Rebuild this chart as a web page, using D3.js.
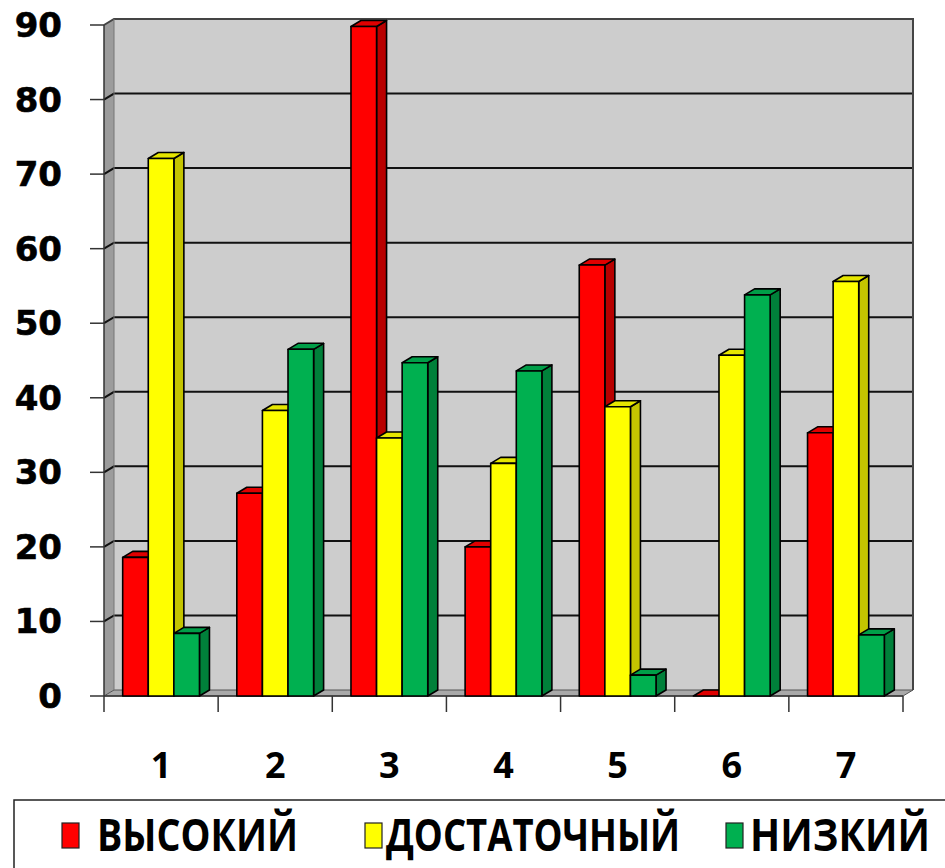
<!DOCTYPE html>
<html>
<head>
<meta charset="utf-8">
<script src="https://d3js.org/d3.v7.min.js"></script>
<style>
  body { margin: 0; background: #fff; }
  svg { display: block; }
</style>
</head>
<body>
<div id="chart"></div>
<script>
// Data
const categories = ["1", "2", "3", "4", "5", "6", "7"];
const seriesNames = ["ВЫСОКИЙ", "ДОСТАТОЧНЫЙ", "НИЗКИЙ"];
const high = [18.6, 27.2, 89.8, 20.0, 57.8, 0, 35.3];
const enough = [72.1, 38.3, 34.6, 31.2, 38.8, 45.7, 55.6];
const low = [8.4, 46.5, 44.7, 43.6, 2.8, 53.8, 8.2];
const yTicks = [0, 10, 20, 30, 40, 50, 60, 70, 80, 90];

const seriesValues = [high, enough, low];
const colors = [
    { front: "#ff0000", side: "#b80000", top: "#e00000" },
    { front: "#ffff00", side: "#c4c400", top: "#e6e600" },
    { front: "#00b050", side: "#00803a", top: "#009e48" }
];

const width = 945;
const height = 868;
const dx = 10, dy = -6;  // 3D depth offset

const svg = d3.select("#chart")
    .append("svg")
    .attr("width", width)
    .attr("height", height);

// Scales
const x0 = d3.scaleBand().domain(categories).range([104, 903]).paddingInner(0);
const x1 = d3.scaleBand().domain(d3.range(3)).range([0, x0.bandwidth()])
    .paddingInner(0).paddingOuter(0.73);
const y = d3.scaleLinear().domain([0, 90]).range([696, 25]);

const left = x0.range()[0], right = x0.range()[1];
const y0 = y(0), yTop = y(90);

// Walls
const walls = svg.append("g");
// back wall
walls.append("rect")
    .attr("x", left + dx).attr("y", yTop + dy)
    .attr("width", right - left).attr("height", y0 - yTop)
    .attr("fill", "#cdcdcd");
// left side wall
walls.append("path")
    .attr("d", `M${left},${y0}L${left},${yTop}L${left + dx},${yTop + dy}L${left + dx},${y0 + dy}Z`)
    .attr("fill", "#9c9c9c");
// floor
walls.append("path")
    .attr("d", `M${left},${y0}L${right},${y0}L${right + dx},${y0 + dy}L${left + dx},${y0 + dy}Z`)
    .attr("fill", "#a9a9a9")
    .attr("stroke", "#555").attr("stroke-width", 1);

// Gridlines on back and side walls
const grid = svg.append("g").attr("stroke", "#111").attr("stroke-width", 2).attr("fill", "none");
yTicks.filter(v => v > 0 && v < 90).forEach(v => {
    grid.append("path")
        .attr("d", `M${left},${y(v)}L${left + dx},${y(v) + dy}L${right + dx},${y(v) + dy}`);
});

// Wall outlines
svg.append("path")
    .attr("d", `M${left},${yTop}L${left + dx},${yTop + dy}L${right + dx},${yTop + dy}L${right + dx},${y0 + dy}`)
    .attr("fill", "none").attr("stroke", "#444").attr("stroke-width", 2);
svg.append("path")
    .attr("d", `M${left + dx},${yTop + dy}L${left + dx},${y0 + dy}`)
    .attr("fill", "none").attr("stroke", "#777").attr("stroke-width", 1);

// Y axis
const yAxisG = svg.append("g");
yAxisG.append("line")
    .attr("x1", left).attr("x2", left).attr("y1", yTop).attr("y2", y0)
    .attr("stroke", "#333").attr("stroke-width", 1.5);
yAxisG.selectAll("line.tick")
    .data(yTicks)
    .enter()
    .append("line")
    .attr("class", "tick")
    .attr("x1", left - 14).attr("x2", left)
    .attr("y1", d => y(d)).attr("y2", d => y(d))
    .attr("stroke", "#333").attr("stroke-width", 1.5);
yAxisG.selectAll("text")
    .data(yTicks)
    .enter()
    .append("text")
    .attr("x", 62)
    .attr("y", d => y(d) + 12)
    .attr("text-anchor", "end")
    .attr("font-family", "DejaVu Sans")
    .attr("font-weight", "bold")
    .attr("font-size", 34)
    .attr("stroke", "#000").attr("stroke-width", 0.6)
    .attr("fill", "#000")
    .text(d => d);

// X axis
const xAxisG = svg.append("g");
xAxisG.append("line")
    .attr("x1", left).attr("x2", right).attr("y1", y0).attr("y2", y0)
    .attr("stroke", "#333").attr("stroke-width", 1.5);
const boundaries = categories.map(c => x0(c)).concat([right]);
xAxisG.selectAll("line.tick")
    .data(boundaries)
    .enter()
    .append("line")
    .attr("class", "tick")
    .attr("x1", d => d).attr("x2", d => d)
    .attr("y1", y0).attr("y2", y0 + 16)
    .attr("stroke", "#333").attr("stroke-width", 1.5);
xAxisG.selectAll("text")
    .data(categories)
    .enter()
    .append("text")
    .attr("x", d => x0(d) + x0.bandwidth() / 2)
    .attr("y", 778)
    .attr("text-anchor", "middle")
    .attr("font-family", "Open Sans")
    .attr("font-weight", "bold")
    .attr("font-size", 36)
    .attr("fill", "#000")
    .text(d => d);

// Bars (drawn left to right so neighbours cover side faces)
const bars = [];
categories.forEach((c, i) => {
    seriesValues.forEach((vals, s) => {
        bars.push({ cat: c, s: s, value: vals[i] });
    });
});

const barG = svg.append("g")
    .attr("stroke", "#000").attr("stroke-width", 1.6).attr("stroke-linejoin", "round");

const barSel = barG.selectAll("g.bar")
    .data(bars)
    .enter()
    .append("g")
    .attr("class", "bar");

function geom(d) {
    const xa = x0(d.cat) + x1(d.s);
    const xb = xa + x1.bandwidth();
    const yt = y(d.value);
    return { xa, xb, yt };
}

// side face
barSel.append("path")
    .attr("fill", d => colors[d.s].side)
    .attr("d", d => {
        const g = geom(d);
        return `M${g.xb},${y0}L${g.xb},${g.yt}L${g.xb + dx},${g.yt + dy}L${g.xb + dx},${y0 + dy}Z`;
    });
// top face
barSel.append("path")
    .attr("fill", d => colors[d.s].top)
    .attr("d", d => {
        const g = geom(d);
        return `M${g.xa},${g.yt}L${g.xb},${g.yt}L${g.xb + dx},${g.yt + dy}L${g.xa + dx},${g.yt + dy}Z`;
    });
// front face
barSel.append("rect")
    .attr("fill", d => colors[d.s].front)
    .attr("x", d => geom(d).xa)
    .attr("y", d => geom(d).yt)
    .attr("width", x1.bandwidth())
    .attr("height", d => y0 - geom(d).yt)
    .attr("stroke-width", d => d.value > 0 ? 1.6 : 0);

// Legend
const legend = svg.append("g");
legend.append("rect")
    .attr("x", 14).attr("y", 800)
    .attr("width", 960).attr("height", 100)
    .attr("fill", "#fff").attr("stroke", "#222").attr("stroke-width", 1.5);

const legendItems = [
    { x: 62, textX: 97, w: 201 },
    { x: 365, textX: 386, w: 294 },
    { x: 726, textX: 750, w: 180 }
];
seriesNames.forEach((name, s) => {
    const it = legendItems[s];
    legend.append("rect")
        .attr("x", it.x).attr("y", 823)
        .attr("width", 17).attr("height", 25)
        .attr("fill", colors[s].front)
        .attr("stroke", "#222").attr("stroke-width", 1.2);
    legend.append("text")
        .attr("x", it.textX).attr("y", 851)
        .attr("font-family", "Open Sans")
        .attr("font-weight", "bold")
        .attr("font-size", 45)
        .attr("textLength", it.w)
        .attr("lengthAdjust", "spacingAndGlyphs")
        .attr("fill", "#000")
        .text(name);
});
</script>
</body>
</html>
